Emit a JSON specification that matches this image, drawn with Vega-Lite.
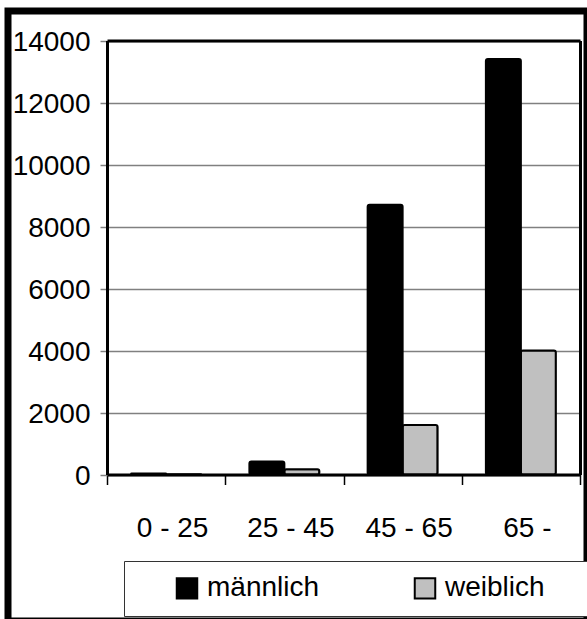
{
  "$schema": "https://vega.github.io/schema/vega-lite/v6.json",
  "width": 579,
  "height": 610,
  "autosize": {"type": "none"},
  "padding": {"left": 8, "top": 11, "right": 0, "bottom": 0},
  "background": "white",
  "data": {
    "values": [
      {"Alter": "0 - 25", "Geschlecht": "männlich", "Anzahl": 30},
      {"Alter": "0 - 25", "Geschlecht": "weiblich", "Anzahl": 10},
      {"Alter": "25 - 45", "Geschlecht": "männlich", "Anzahl": 420},
      {"Alter": "25 - 45", "Geschlecht": "weiblich", "Anzahl": 170},
      {"Alter": "45 - 65", "Geschlecht": "männlich", "Anzahl": 8700},
      {"Alter": "45 - 65", "Geschlecht": "weiblich", "Anzahl": 1600},
      {"Alter": "65 -", "Geschlecht": "männlich", "Anzahl": 13400},
      {"Alter": "65 -", "Geschlecht": "weiblich", "Anzahl": 4000}
    ]
  },
  "encoding": {
    "xOffset": {
      "field": "Geschlecht",
      "type": "nominal",
      "sort": ["männlich", "weiblich"],
      "scale": {"paddingInner": 0, "paddingOuter": 0.69}
    }
  },
  "layer": [
    {
      "mark": {"type": "bar", "stroke": "black", "strokeWidth": 2, "cornerRadius": 2},
      "encoding": {
        "x": {
          "field": "Alter",
          "type": "nominal",
          "sort": ["0 - 25", "25 - 45", "45 - 65", "65 -"],
          "scale": {"range": [99, 572], "paddingInner": 0, "paddingOuter": 0},
          "axis": {
            "title": null,
            "orient": "bottom",
            "offset": -146.5,
            "domainColor": "black",
            "domainWidth": 3,
            "tickBand": "extent",
            "tickColor": "black",
            "tickSize": 10,
            "tickWidth": 1.5,
            "labelFont": "Liberation Sans",
            "labelFontSize": 28,
            "labelColor": "black",
            "labelAngle": 0,
            "labelPadding": 30,
            "labelOffset": 6,
            "grid": false
          }
        },
        "y": {
          "field": "Anzahl",
          "type": "quantitative",
          "scale": {"domain": [0, 14000], "range": [463.5, 29.5], "nice": false},
          "axis": {
            "title": null,
            "orient": "left",
            "offset": -99,
            "values": [0, 2000, 4000, 6000, 8000, 10000, 12000, 14000],
            "format": "d",
            "domainColor": "black",
            "domainWidth": 3,
            "tickColor": "#808080",
            "tickSize": 7,
            "tickWidth": 1.5,
            "labelFont": "Liberation Sans",
            "labelFontSize": 28,
            "labelColor": "black",
            "labelPadding": 10,
            "labelOffset": 2,
            "grid": true,
            "gridColor": "#808080",
            "gridWidth": 1.5
          }
        },
        "color": {
          "field": "Geschlecht",
          "type": "nominal",
          "scale": {"domain": ["männlich", "weiblich"], "range": ["#000000", "#c0c0c0"]},
          "legend": {
            "title": "\u200b\u00a0\u00a0\u00a0\u200b",
            "titleOrient": "left",
            "titlePadding": 12,
            "titleFontSize": 28,
            "titleFont": "Liberation Sans",
            "orient": "none",
            "legendX": 116,
            "legendY": 550,
            "direction": "horizontal",
            "columns": 2,
            "symbolType": "square",
            "symbolSize": 420,
            "symbolStrokeColor": "black",
            "symbolStrokeWidth": 2,
            "symbolOpacity": 1,
            "labelFont": "Liberation Sans",
            "labelFontSize": 28,
            "labelOffset": 6,
            "labelColor": "black",
            "labelLimit": 300,
            "columnPadding": 90,
            "padding": 13,
            "strokeColor": "#333333",
            "fillColor": "white",
            "labelExpr": "datum.label == 'weiblich' ? datum.label + '\u00a0\u00a0\u00a0\u00a0\u200b' : datum.label"
          }
        }
      }
    },
    {
      "mark": {"type": "bar", "opacity": 0},
      "encoding": {
        "x": {
          "field": "Alter",
          "type": "nominal",
          "sort": ["0 - 25", "25 - 45", "45 - 65", "65 -"],
          "axis": {
            "title": null,
            "orient": "top",
            "offset": -29.5,
            "domainColor": "black",
            "domainWidth": 3,
            "ticks": false,
            "labels": false,
            "grid": false
          }
        },
        "y": {
          "field": "Anzahl",
          "type": "quantitative",
          "axis": {
            "title": null,
            "orient": "right",
            "offset": -7,
            "domainColor": "black",
            "domainWidth": 3,
            "ticks": false,
            "labels": false,
            "grid": false
          }
        }
      }
    }
  ],
  "resolve": {"axis": {"x": "independent", "y": "independent"}},
  "config": {
    "view": {"stroke": "black", "strokeWidth": 7},
    "font": "Liberation Sans"
  }
}
